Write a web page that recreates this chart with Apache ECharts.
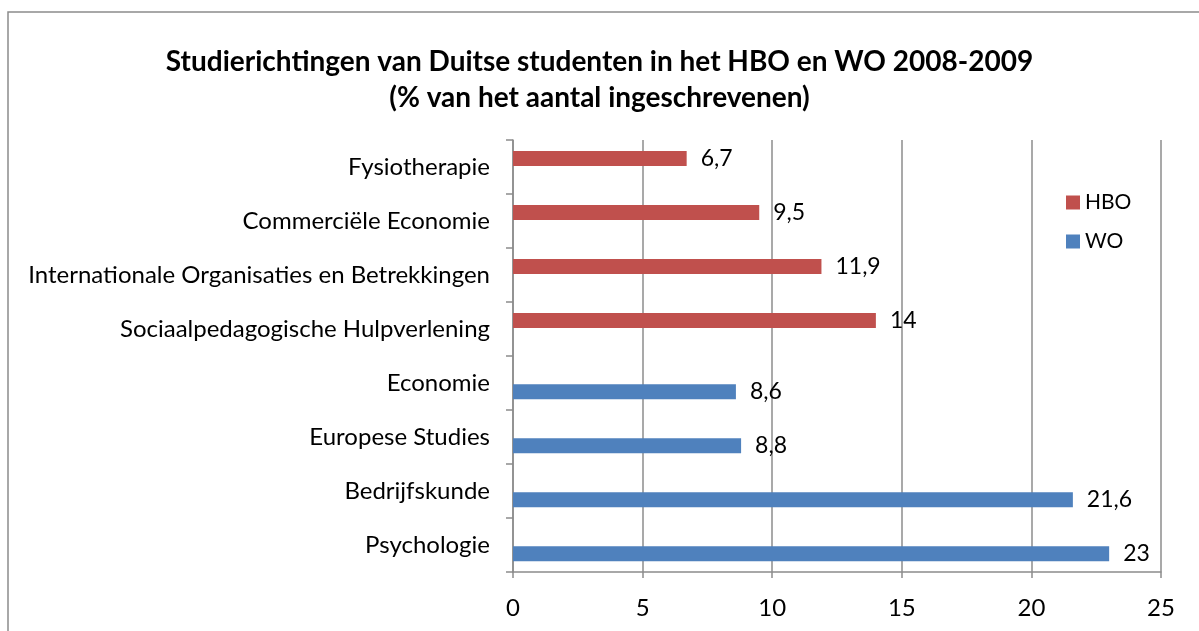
<!DOCTYPE html>
<html>
<head>
<meta charset="utf-8">
<script src="https://cdn.jsdelivr.net/npm/echarts@6/dist/echarts.min.js"></script>
<style>
html, body { margin: 0; padding: 0; background: #fff; }
#chart { width: 1199px; height: 631px; }
</style>
</head>
<body>
<div id="chart"></div>
<script>
// categories top to bottom
var categories = ['Fysiotherapie', 'Commerciële Economie', 'Internationale Organisaties en Betrekkingen',
    'Sociaalpedagogische Hulpverlening', 'Economie', 'Europese Studies', 'Bedrijfskunde', 'Psychologie'];
var hbo = [6.7, 9.5, 11.9, 14, null, null, null, null];
var wo = [null, null, null, null, 8.6, 8.8, 21.6, 23];
var xTicks = [0, 5, 10, 15, 20, 25];

var font = 'Lato, "Open Sans", sans-serif';

function komma(p){
    return String(p.value).replace('.', ',');
}

var myChart = echarts.init(document.getElementById('chart'));
var option = {
    animation: false,
    textStyle: { fontFamily: font },
    title: {
        text: 'Studierichtingen van Duitse studenten in het HBO en WO 2008-2009\n(% van het aantal ingeschrevenen)',
        left: 'center',
        top: 39,
        textStyle: { fontSize: 28, fontWeight: 'bold', color: '#000', lineHeight: 36, fontFamily: font }
    },
    graphic: [{
        type: 'rect',
        shape: { x: 8, y: 12, width: 1300, height: 700 },
        style: { fill: 'none', stroke: '#8c8c8c', lineWidth: 1.5 },
        silent: true
    }],
    legend: {
        orient: 'vertical',
        left: 1061,
        top: 187,
        itemWidth: 14,
        itemHeight: 14,
        itemGap: 18,
        icon: 'rect',
        textStyle: { fontSize: 21, color: '#000', fontFamily: font },
        data: ['HBO', 'WO']
    },
    grid: { left: 513, right: 38, top: 140, bottom: 59, containLabel: false },
    xAxis: {
        type: 'value',
        min: xTicks[0],
        max: xTicks[xTicks.length - 1],
        interval: 5,
        axisLine: { show: true, lineStyle: { color: '#8c8c8c', width: 1.5 } },
        axisTick: { show: true, length: 6, lineStyle: { color: '#8c8c8c', width: 1.5 } },
        splitLine: { show: true, lineStyle: { color: '#8c8c8c', width: 1.5 } },
        axisLabel: { fontSize: 24, color: '#000', margin: 24, fontFamily: font }
    },
    yAxis: {
        type: 'category',
        inverse: true,
        data: categories,
        axisLine: { show: true, lineStyle: { color: '#8c8c8c', width: 1.5 } },
        axisTick: { show: true, length: 7, lineStyle: { color: '#8c8c8c', width: 1.5 } },
        axisLabel: { fontSize: 24, color: '#000', margin: 23, fontFamily: font }
    },
    series: [
        {
            name: 'HBO',
            type: 'bar',
            data: hbo,
            barWidth: 15,
            barGap: '15%',
            itemStyle: { color: '#c0504d' },
            label: { show: true, position: 'right', distance: 14, fontSize: 23, color: '#000', formatter: komma, fontFamily: font }
        },
        {
            name: 'WO',
            type: 'bar',
            data: wo,
            barWidth: 15,
            barGap: '15%',
            itemStyle: { color: '#4f81bd' },
            label: { show: true, position: 'right', distance: 14, fontSize: 23, color: '#000', formatter: komma, fontFamily: font }
        }
    ]
};
myChart.setOption(option);
</script>
</body>
</html>
